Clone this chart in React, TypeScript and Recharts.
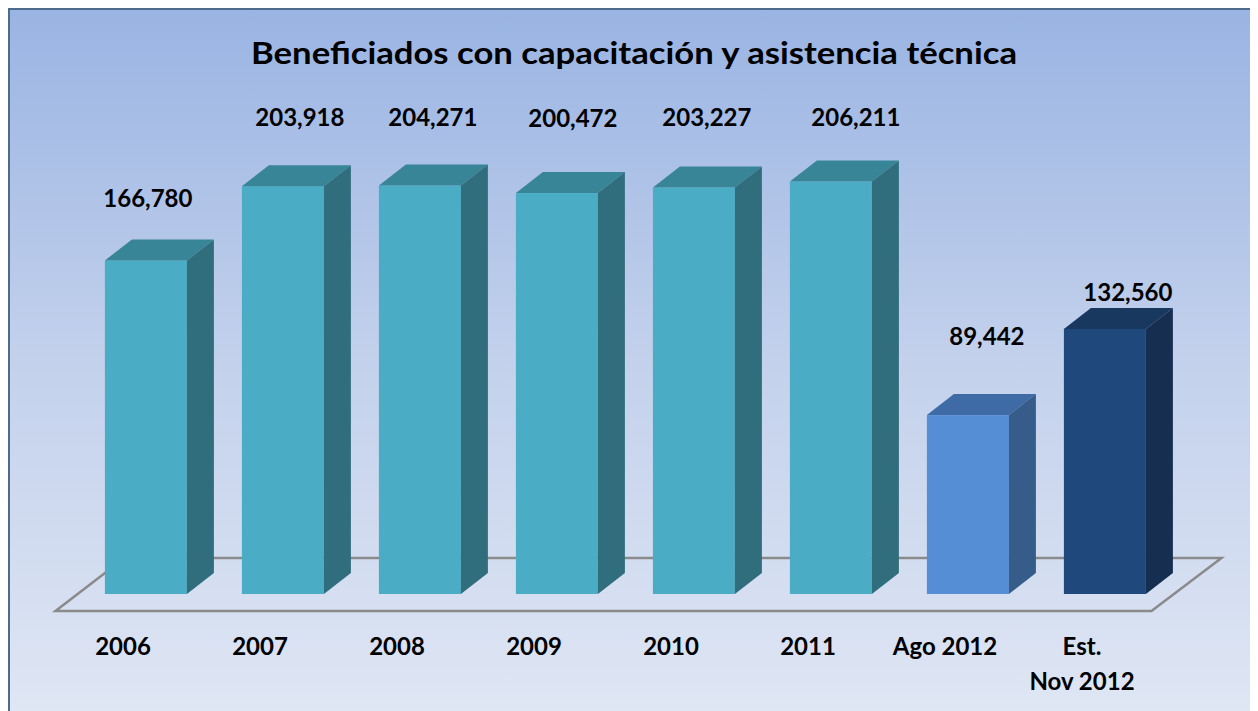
import React from 'react';
import { BarChart, Bar, XAxis, YAxis, LabelList, ReferenceArea } from 'recharts';

const categories = ['2006', '2007', '2008', '2009', '2010', '2011', 'Ago 2012', 'Est.\nNov 2012'];
const beneficiados = [166780, 203918, 204271, 200472, 203227, 206211, 89442, 132560];

const data = categories.map((name, i) => ({ name, value: beneficiados[i] }));

// front / top / side shades for each bar
const teal = { front: '#4bacc6', top: '#378597', side: '#306e7d' };
const palette = [
  teal, teal, teal, teal, teal, teal,
  { front: '#558ed5', top: '#3e6aa6', side: '#365c89' },
  { front: '#1f497d', top: '#19385f', side: '#162e50' },
];

// hand placement of the value labels (Excel moved them around)
const labelNudge = [
  [2, -62], [17, -69], [13, -68], [16, -75], [13, -71], [25, -65], [19, -79], [23, -37],
];

const DX = 27;
const DY = 21;
const FONT = 'Lato, "Open Sans", sans-serif';

const Bar3D = (props: any) => {
  const { x, y, width, height, index } = props;
  const c = palette[index];
  const r = x + width;
  const b = y + height;
  return (
    <g>
      <rect x={x} y={y} width={width} height={height} fill={c.front} />
      <polygon points={`${x},${y} ${x + DX},${y - DY} ${r + DX},${y - DY} ${r},${y}`} fill={c.top} />
      <polygon points={`${r},${y} ${r + DX},${y - DY} ${r + DX},${b - DY} ${r},${b}`} fill={c.side} />
    </g>
  );
};

const Floor = (props: any) => {
  const { x, y, width, height } = props;
  const base = y + height;
  const pts = [
    [x - 22, base + 17],
    [x + width - 22, base + 17],
    [x + width + 48, base - 36],
    [x + 47, base - 36],
  ];
  return (
    <polygon
      points={pts.map((p) => p.join(',')).join(' ')}
      fill="none"
      stroke="#8a8a8a"
      strokeWidth={2.5}
    />
  );
};

const Tick = (props: any) => {
  const { x, y, payload } = props;
  const lines = String(payload.value).split('\n');
  return (
    <g>
      {lines.map((t, i) => (
        <text
          key={i}
          x={x - 23}
          y={y + 61 + i * 35}
          textAnchor="middle"
          fontFamily={FONT}
          fontWeight="bold"
          fontSize={24}
          fill="#000"
        >
          {t}
        </text>
      ))}
    </g>
  );
};

const ValueLabel = (props: any) => {
  const { x, y, width, value, index } = props;
  const [nx, ny] = labelNudge[index];
  return (
    <text
      x={x + width / 2 + nx}
      y={y + ny + 9}
      textAnchor="middle"
      fontFamily={FONT}
      fontWeight="bold"
      fontSize={24}
      fill="#000"
    >
      {Number(value).toLocaleString('en-US')}
    </text>
  );
};

const App = () => {
  return (
    <div
      style={{
        position: 'relative',
        width: 1250,
        height: 703,
        boxSizing: 'border-box',
        borderTop: '2px solid #4f6b8c',
        borderLeft: '2px solid #4f6b8c',
        background: 'linear-gradient(to bottom, #9ab4e3 0%, #c3d1ec 50%, #dfe6f4 100%)',
      }}
    >
      <div style={{ position: 'absolute', left: -2, top: -2 }}>
        <BarChart
          width={1250}
          height={703}
          data={data}
          margin={{ top: 86, right: 84.5, left: 69.5, bottom: 57 }}
          barCategoryGap="20%"
        >
          <XAxis
            dataKey="name"
            axisLine={false}
            tickLine={false}
            tickSize={0}
            tickMargin={0}
            height={60}
            interval={0}
            tick={<Tick />}
          />
          <YAxis hide domain={[0, 250000]} />
          <ReferenceArea
            x1={categories[0]}
            x2={categories[categories.length - 1]}
            y1={0}
            y2={2000}
            ifOverflow="visible"
            shape={<Floor />}
          />
          <Bar dataKey="value" shape={<Bar3D />} isAnimationActive={false}>
            <LabelList dataKey="value" content={<ValueLabel />} />
          </Bar>
        </BarChart>
      </div>
      <svg
        width={1250}
        height={703}
        style={{ position: 'absolute', left: -2, top: -2, pointerEvents: 'none' }}
      >
        <text
          x={626}
          y={56}
          textAnchor="middle"
          fontFamily={FONT}
          fontWeight="bold"
          fontSize={31}
          textLength={766}
          lengthAdjust="spacingAndGlyphs"
          fill="#000"
        >
          Beneficiados con capacitación y asistencia técnica
        </text>
      </svg>
    </div>
  );
};

export default App;
